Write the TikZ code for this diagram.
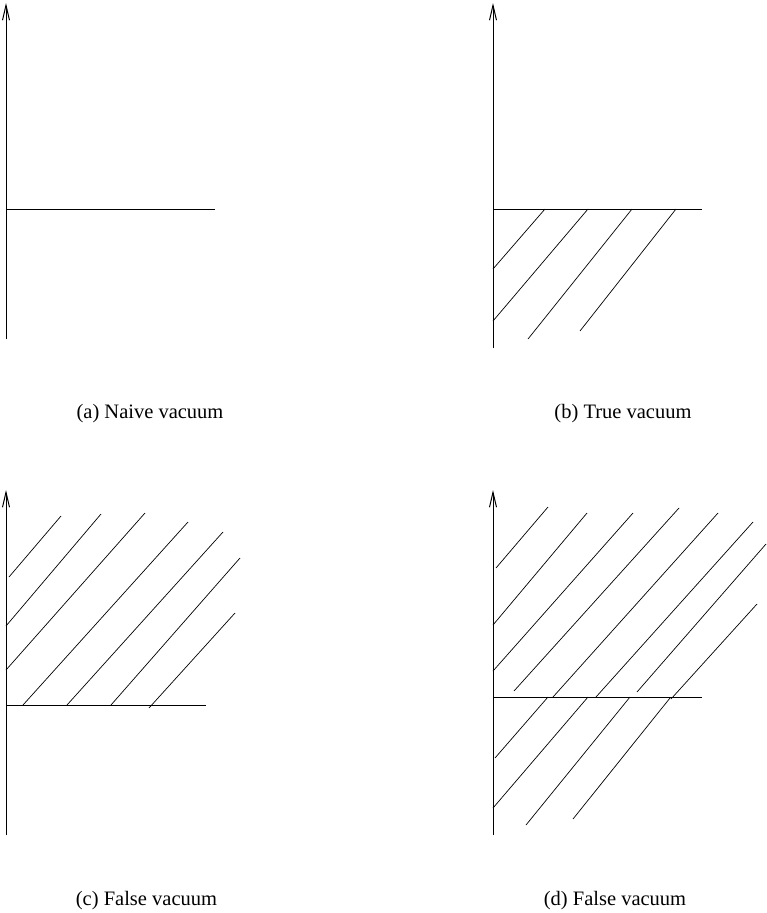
\documentclass[tikz,border=0pt]{standalone}
\usepackage{fontspec}
\setmainfont{Liberation Serif}
\usetikzlibrary{arrows.meta}
\begin{document}
\begin{tikzpicture}[x=1pt,y=-1pt,
	axis/.style={ draw, line width=1pt, -{Straight Barb[length=15pt,width=7pt]} },
	level/.style={ draw, line width=0.9pt },
	hatch/.style={ draw, line width=0.7pt },
	caption/.style={ font=\fontsize{20.5}{24}\selectfont, inner sep=0pt, anchor=base }
]
\useasboundingbox (0,0) rectangle (767,913);

% (a) naive
\coordinate (a0) at (6,339);
\coordinate (a1) at (6,3);
\draw[axis] (a0) to (a1);
\coordinate (al) at (6,209);
\coordinate (ar) at (215,209);
\draw[level] (al) to (ar);
\node[caption] at (150,418) (capa) {(a) Naive vacuum};

% (b) true
\coordinate (b0) at (493,348);
\coordinate (b1) at (493,3);
\draw[axis] (b0) to (b1);
\coordinate (bl) at (493,209);
\coordinate (br) at (702,209);
\draw[level] (bl) to (br);
\foreach \x/\y/\u/\v in {545/209/493/269, 588/209/493/321, 632/209/528/339, 676/209/580/331}
	\draw[hatch] (\x,\y) to (\u,\v);
\node[caption] at (623,418) (capb) {(b) True vacuum};

% (c) false
\coordinate (c0) at (6,835);
\coordinate (c1) at (6,490);
\draw[axis] (c0) to (c1);
\coordinate (cl) at (6,705);
\coordinate (cr) at (206,705);
\draw[level] (cl) to (cr);
\foreach \x/\y/\u/\v in {9/577/61/516, 6/626/101/514, 6/670/145/513, 23/705/188/522,
	67/705/223/532, 111/705/240/558, 149/708/235/613}
	\draw[hatch] (\x,\y) to (\u,\v);
\node[caption] at (146.5,905) (capc) {(c) False vacuum};

% (d) false
\coordinate (d0) at (493,835);
\coordinate (d1) at (493,490);
\draw[axis] (d0) to (d1);
\coordinate (dl) at (493,697);
\coordinate (dr) at (702,697);
\draw[level] (dl) to (dr);
\foreach \x/\y/\u/\v in {496/568/548/507, 493/625/587/513, 493/671/633/513, 514/691/679/508,
	553/697/718/513, 596/697/753/522, 637/692/766/544, 671/699/757/604}
	\draw[hatch] (\x,\y) to (\u,\v);
\foreach \x/\y/\u/\v in {548/697/495/758, 588/697/493/808, 630/697/526/825, 670/698/573/819}
	\draw[hatch] (\x,\y) to (\u,\v);
\node[caption] at (615,905) (capd) {(d) False vacuum};

\end{tikzpicture}
\end{document}
